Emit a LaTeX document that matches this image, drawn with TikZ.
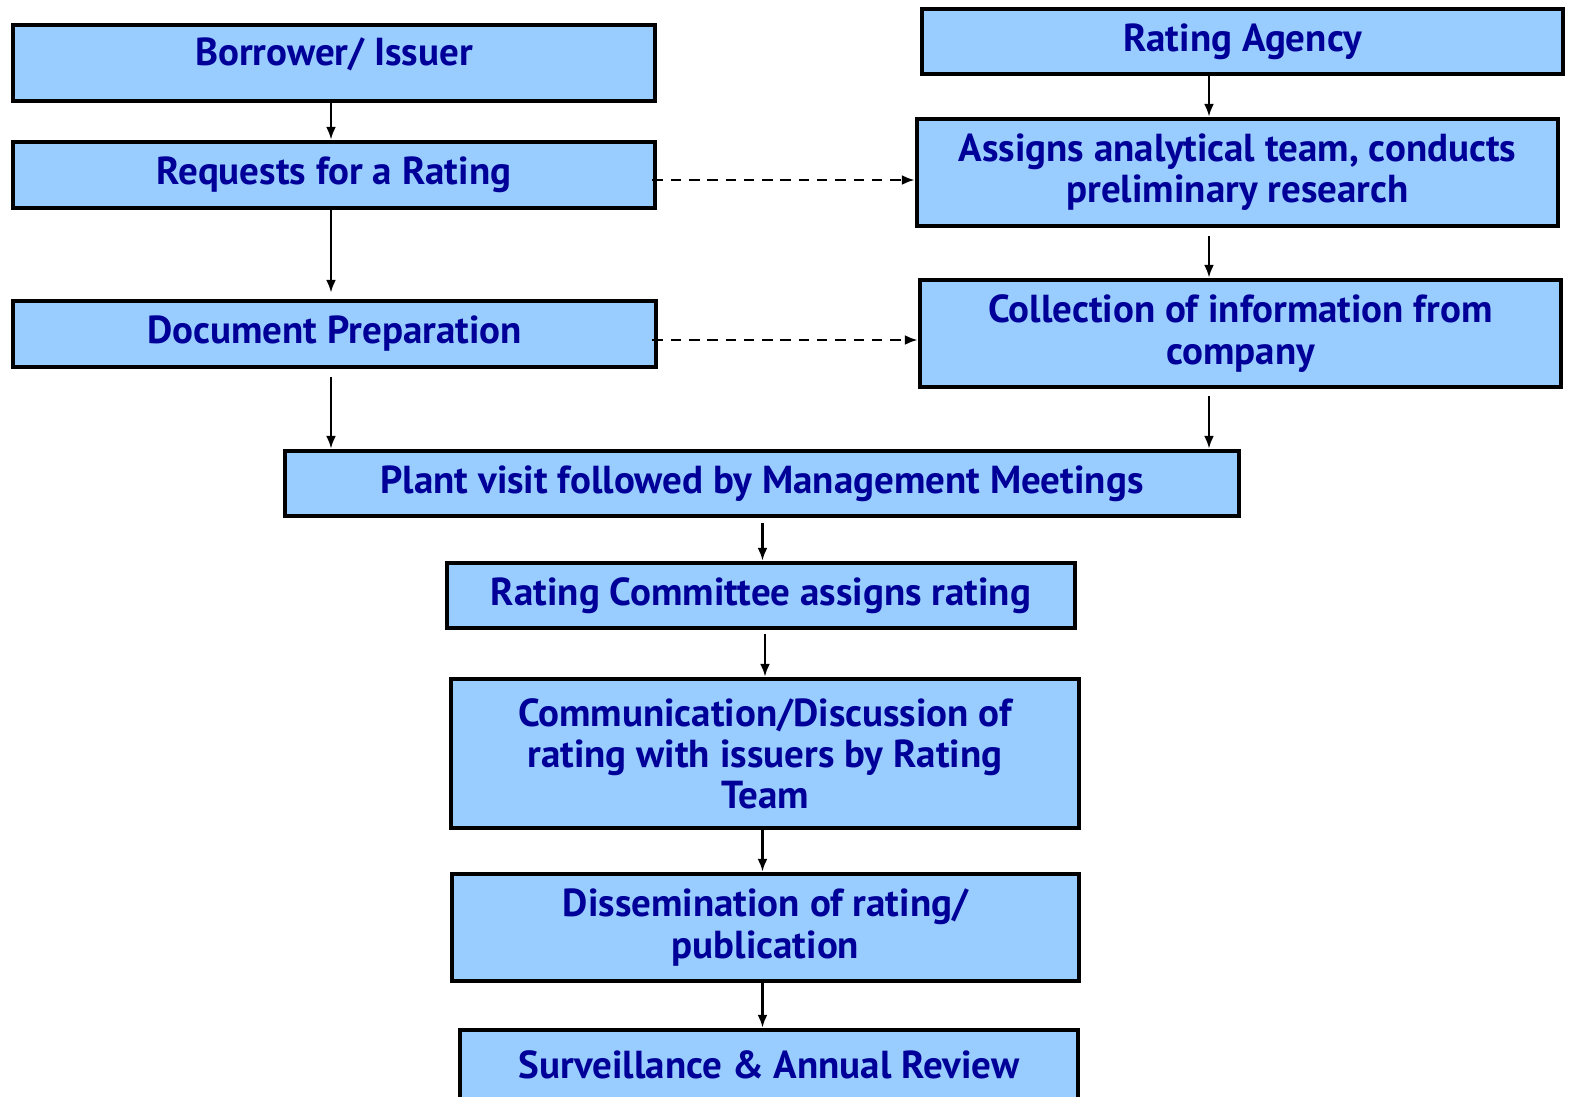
\documentclass[tikz,border=0pt]{standalone}
\usepackage{fontspec}
\setmainfont{PT Sans}
\usetikzlibrary{arrows.meta}
\definecolor{boxblue}{HTML}{99CCFF}
\definecolor{textnavy}{HTML}{000099}
\begin{document}
\begin{tikzpicture}[>={Latex[length=3.6pt,width=2.8pt]}, y=-1cm,
    stage/.style={draw, line width=1.4pt, fill=boxblue, text=textnavy, align=center,
        inner sep=0pt, font=\fontsize{11.1}{11.7}\selectfont\bfseries},
    flow/.style={->, semithick},
    link/.style={->, semithick, dash pattern=on 3pt off 2.2pt}]
    \useasboundingbox (0,0) rectangle (15.73,10.96);
    % issuer side
    \node[stage, minimum width=6.42cm, minimum height=0.76cm, text depth=0.23cm] (bor) at (3.34,0.63) {Borrower/ Issuer};
    \node[stage, minimum width=6.42cm, minimum height=0.66cm] (req) at (3.34,1.75) {Requests for a Rating};
    \node[stage, minimum width=6.43cm, minimum height=0.66cm] (doc) at (3.345,3.34) {Document Preparation};
    % agency side
    \node[stage, minimum width=6.41cm, minimum height=0.65cm] (agy) at (12.425,0.415) {Rating Agency};
    \node[stage, minimum width=6.41cm, minimum height=1.07cm] (asg) at (12.375,1.725) {Assigns analytical team, conducts\\preliminary research};
    \node[stage, minimum width=6.41cm, minimum height=1.07cm] (col) at (12.405,3.335) {Collection of information from\\company};
    % common stages
    \node[stage, minimum width=9.54cm, minimum height=0.65cm] (plt) at (7.62,4.835) {Plant visit followed by Management Meetings};
    \node[stage, minimum width=6.28cm, minimum height=0.65cm] (cmt) at (7.61,5.955) {Rating Committee assigns rating};
    \node[stage, minimum width=6.28cm, minimum height=1.49cm] (com) at (7.65,7.535) {Communication/Discussion of\\rating with issuers by Rating\\Team};
    \node[stage, minimum width=6.27cm, minimum height=1.07cm] (dis) at (7.655,9.275) {Dissemination of rating/\\publication};
    \node[stage, minimum width=6.18cm, minimum height=0.70cm] (srv) at (7.69,10.65) {Surveillance \& Annual Review};

    \coordinate (lcol) at (3.31,0);
    \coordinate (rcol) at (12.09,0);
    \coordinate (ccol) at (7.625,0);

    \draw[flow] (bor.south -| lcol) -- (req.north -| lcol);
    \draw[flow, shorten >=0.06cm] (req.south -| lcol) -- (doc.north -| lcol);
    \draw[flow, shorten <=0.08cm] (doc.south -| lcol) -- (plt.north -| lcol);
    \draw[flow] (agy.south -| rcol) -- (asg.north -| rcol);
    \draw[flow, shorten <=0.08cm] (asg.south -| rcol) -- (col.north -| rcol);
    \draw[flow, shorten <=0.07cm] (col.south -| rcol) -- (plt.north -| rcol);
    \draw[flow, shorten <=0.05cm] (plt.south -| ccol) -- (cmt.north -| ccol);
    \draw[flow, shorten <=0.04cm] (cmt.south -| com.north) -- (com.north);
    \draw[flow] (com.south -| ccol) -- (dis.north -| ccol);
    \draw[flow] (dis.south -| ccol) -- (srv.north -| ccol);

    \draw[link] ([shift={(-0.05,0.05)}]req.east) -- ([yshift=-0.05cm]req.east -| asg.west);
    \draw[link] ([shift={(-0.06,0.06)}]doc.east) -- ([yshift=-0.06cm]doc.east -| col.west);
\end{tikzpicture}
\end{document}
